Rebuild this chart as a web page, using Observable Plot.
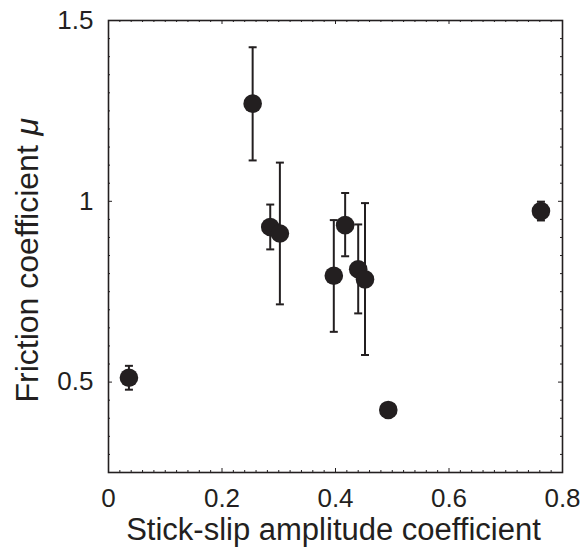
<!DOCTYPE html>
<html>
<head>
<meta charset="utf-8">
<script src="https://cdn.jsdelivr.net/npm/d3@7"></script>
<script src="https://cdn.jsdelivr.net/npm/@observablehq/plot@0.6"></script>
<style>
  html, body { margin: 0; padding: 0; background: #fff; }
</style>
</head>
<body>
<div id="chart"></div>
<script>
// Stick-slip amplitude coefficient (x) and friction coefficient mu (y)
const amplitude = [0.036, 0.254, 0.285, 0.302, 0.397, 0.417, 0.440, 0.452, 0.493, 0.762];
const friction  = [0.512, 1.270, 0.929, 0.911, 0.794, 0.934, 0.812, 0.784, 0.423, 0.973];
const errLow    = [0.479, 1.113, 0.867, 0.715, 0.639, 0.848, 0.690, 0.575, null, 0.947];
const errHigh   = [0.545, 1.426, 0.991, 1.107, 0.948, 1.023, 0.936, 0.995, null, 0.999];

const xTicks = [0, 0.2, 0.4, 0.6, 0.8];
const xTickLabels = ["0", "0.2", "0.4", "0.6", "0.8"];
const yTicks = [0.5, 1, 1.5];
const yTickLabels = ["0.5", "1", "1.5"];
const xTitle = "Stick-slip amplitude coefficient";
const yTitle = "Friction coefficient";
const yTitleSymbol = "μ";

const ink = "#231f20";
const font = "'Liberation Sans', Arial, Helvetica, sans-serif";

const W = 582, H = 547, ML = 108, MR = 20, MT = 20, MB = 75;
const FW = W - ML - MR, FH = H - MT - MB;
const MAJOR = 4, MINOR = 2;

const data = amplitude.map((x, i) => ({x, mu: friction[i], lo: errLow[i], hi: errHigh[i]}));
const errData = data.filter(d => d.lo != null);

const xMinor = d3.range(0, 0.8001, 0.02).filter(v => !xTicks.some(t => Math.abs(t - v) < 1e-6));
const yMinor = d3.range(0.25, 1.5001, 0.05).filter(v => !yTicks.some(t => Math.abs(t - v) < 1e-6));

const capSymbol = {
  draw(ctx, size) {
    const h = Math.sqrt(size / Math.PI);
    ctx.moveTo(-h, 0);
    ctx.lineTo(h, 0);
  }
};

const tickStyle = {stroke: ink, strokeWidth: 1};

const chart = Plot.plot({
  width: W,
  height: H,
  marginLeft: ML,
  marginRight: MR,
  marginTop: MT,
  marginBottom: MB,
  x: {domain: [0, 0.8]},
  y: {domain: [0.25, 1.5]},
  style: {fontFamily: font, color: ink, background: "#fff", overflow: "visible"},
  marks: [
    // tick labels
    Plot.axisX({ticks: xTicks, tickSize: 0, tickPadding: 15.8, tickFormat: (d, i) => xTickLabels[i], fontSize: 26, label: null}),
    Plot.axisY({ticks: yTicks, tickSize: 0, tickPadding: 15, tickFormat: (d, i) => yTickLabels[i], fontSize: 26, label: null}),
    // inward ticks on all four sides
    Plot.tickX(xTicks, {x: d => d, insetTop: FH - MAJOR, ...tickStyle}),
    Plot.tickX(xMinor, {x: d => d, insetTop: FH - MINOR, ...tickStyle}),
    Plot.tickX(xTicks, {x: d => d, insetBottom: FH - MAJOR, ...tickStyle}),
    Plot.tickX(xMinor, {x: d => d, insetBottom: FH - MINOR, ...tickStyle}),
    Plot.tickY(yTicks, {y: d => d, insetRight: FW - MAJOR, ...tickStyle}),
    Plot.tickY(yMinor, {y: d => d, insetRight: FW - MINOR, ...tickStyle}),
    Plot.tickY(yTicks, {y: d => d, insetLeft: FW - MAJOR, ...tickStyle}),
    Plot.tickY(yMinor, {y: d => d, insetLeft: FW - MINOR, ...tickStyle}),
    Plot.frame({stroke: ink, strokeWidth: 1.6}),
    // error bars
    Plot.ruleX(errData, {x: "x", y1: "lo", y2: "hi", stroke: ink, strokeWidth: 2}),
    Plot.dot(errData, {x: "x", y: "lo", symbol: capSymbol, r: 4, stroke: ink, strokeWidth: 2, fill: "none"}),
    Plot.dot(errData, {x: "x", y: "hi", symbol: capSymbol, r: 4, stroke: ink, strokeWidth: 2, fill: "none"}),
    // points
    Plot.dot(data, {x: "x", y: "mu", r: 9.3, fill: ink}),
    // axis titles
    Plot.text([xTitle], {text: d => d, frameAnchor: "bottom", lineAnchor: "middle", dx: -2, dy: 58, fontSize: 31, fill: ink}),
    Plot.text([yTitle], {text: d => d, frameAnchor: "left", rotate: -90, textAnchor: "start", lineAnchor: "middle", dx: -81, dy: 156, fontSize: 32, fill: ink}),
    Plot.text([yTitleSymbol], {text: d => d, frameAnchor: "left", rotate: -90, textAnchor: "start", lineAnchor: "middle", dx: -81, dy: -111, fontSize: 32, fontStyle: "italic", fill: ink})
  ]
});

document.getElementById("chart").appendChild(chart);
</script>
</body>
</html>
